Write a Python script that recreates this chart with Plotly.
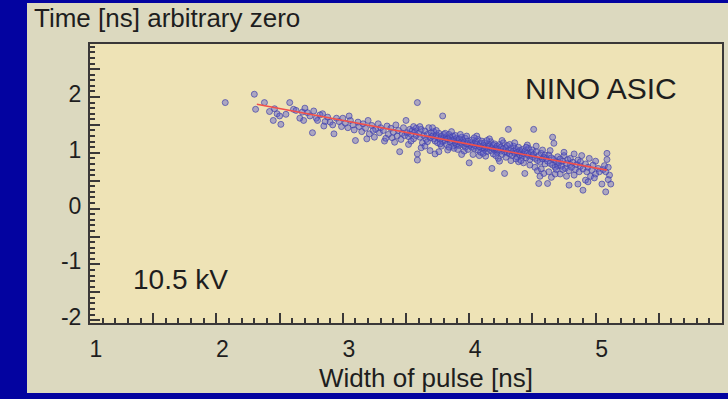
import plotly.graph_objects as go

# ---- data ----
width_ns = [
    2.07, 2.30, 2.31,
    2.38, 2.42, 2.45, 2.48, 2.50, 2.51, 2.46, 2.55,
    2.58, 2.61, 2.63, 2.66, 2.68, 2.70, 2.72, 2.74, 2.69,
    2.76, 2.77, 2.79, 2.80, 2.82, 2.84, 2.86, 2.88, 2.90, 2.85,
    2.93, 2.92, 2.95, 2.97, 2.99, 3.00, 3.02, 3.04, 3.06, 3.08, 3.10, 3.05, 3.09,
    3.12, 3.13, 3.15, 3.16, 3.18, 3.20, 3.21, 3.23, 3.25, 3.26, 3.28, 3.29, 3.30, 3.19, 3.24,
    3.32, 3.33, 3.35, 3.36, 3.38, 3.39, 3.40, 3.42, 3.43, 3.45, 3.44, 3.46, 3.47, 3.48, 3.49, 3.34, 3.41,
    3.50, 3.51, 3.52, 3.53, 3.54, 3.55, 3.56, 3.57, 3.58, 3.59, 3.59, 3.59, 3.52, 3.56, 3.58, 3.54,
    3.60, 3.61, 3.62, 3.63, 3.64, 3.65, 3.66, 3.67, 3.68, 3.69, 3.70, 3.62, 3.65, 3.67, 3.61, 3.69,
    3.71, 3.72, 3.72, 3.73, 3.74, 3.75, 3.75, 3.76, 3.77, 3.78, 3.79, 3.79, 3.80, 3.73, 3.76, 3.78, 3.71, 3.74, 3.77, 3.80,
    3.81, 3.82, 3.82, 3.83, 3.84, 3.85, 3.85, 3.86, 3.87, 3.87, 3.88, 3.89, 3.90, 3.83, 3.86, 3.88, 3.90, 3.81, 3.84, 3.89,
    3.91, 3.92, 3.92, 3.93, 3.94, 3.95, 3.95, 3.96, 3.97, 3.97, 3.98, 3.99, 4.00, 4.00, 3.93, 3.96, 3.98, 3.91, 3.94, 3.99,
    4.01, 4.02, 4.02, 4.03, 4.04, 4.05, 4.05, 4.06, 4.07, 4.07, 4.08, 4.09, 4.10, 4.03, 4.06, 4.08, 4.10, 4.04, 4.09,
    4.11, 4.12, 4.12, 4.13, 4.14, 4.15, 4.15, 4.16, 4.17, 4.17, 4.18, 4.18, 4.19, 4.20, 4.13, 4.16, 4.19, 4.11, 4.14, 4.20,
    4.21, 4.22, 4.22, 4.23, 4.24, 4.25, 4.25, 4.26, 4.27, 4.27, 4.28, 4.28, 4.29, 4.30, 4.23, 4.26, 4.29, 4.21, 4.24, 4.30,
    4.31, 4.31, 4.32, 4.33, 4.34, 4.35, 4.35, 4.36, 4.37, 4.38, 4.38, 4.39, 4.40, 4.33, 4.36, 4.39, 4.32, 4.37, 4.40,
    4.41, 4.42, 4.42, 4.43, 4.44, 4.44, 4.45, 4.46, 4.47, 4.47, 4.48, 4.49, 4.50, 4.43, 4.46, 4.48, 4.41, 4.45, 4.50,
    4.51, 4.51, 4.52, 4.53, 4.54, 4.55, 4.55, 4.56, 4.57, 4.58, 4.58, 4.59, 4.60, 4.52, 4.54, 4.57, 4.60, 4.53, 4.56, 4.59,
    4.62, 4.61, 4.62, 4.63, 4.64, 4.65, 4.66, 4.66, 4.67, 4.67, 4.68, 4.69, 4.70, 4.63, 4.65, 4.68, 4.70, 4.64, 4.69,
    4.71, 4.72, 4.73, 4.74, 4.75, 4.76, 4.77, 4.78, 4.79, 4.79, 4.80, 4.72, 4.75, 4.77, 4.80, 4.74,
    4.81, 4.82, 4.83, 4.84, 4.85, 4.86, 4.86, 4.87, 4.88, 4.89, 4.90, 4.90, 4.83, 4.88,
    4.92, 4.92, 4.93, 4.94, 4.95, 4.96, 4.97, 4.98, 5.00, 5.00, 4.94, 4.99,
    5.02, 5.03, 5.05, 5.06, 5.07, 5.08, 5.09, 5.09, 5.10, 5.11, 5.12, 5.10, 5.08,
]
time_ns = [
    1.90, 2.05, 1.78,
    1.90, 1.74, 1.58, 1.70, 1.66, 1.51, 1.79, 1.69,
    1.90, 1.78, 1.76, 1.62, 1.73, 1.80, 1.72, 1.66, 1.58,
    1.36, 1.75, 1.62, 1.58, 1.68, 1.70, 1.56, 1.64, 1.55, 1.48,
    1.34, 1.50, 1.62, 1.56, 1.47, 1.62, 1.53, 1.45, 1.58, 1.50, 1.22, 1.66, 1.41,
    1.55, 1.47, 1.38, 1.52, 1.44, 1.58, 1.34, 1.49, 1.28, 1.42, 1.52, 1.36, 1.45, 1.25, 1.40,
    1.40, 1.21, 1.48, 1.33, 1.44, 1.27, 1.37, 1.50, 1.30, 1.02, 1.40, 1.24, 1.35, 1.45, 1.31, 1.26, 1.19,
    1.58, 1.36, 1.29, 1.42, 1.33, 1.40, 1.25, 1.38, 1.44, 1.90, 0.98, 0.87, 1.15, 1.47, 1.31, 1.21,
    1.35, 1.28, 1.42, 1.18, 1.31, 1.39, 1.24, 1.33, 1.45, 1.27, 1.36, 1.09, 1.12, 1.20, 1.47, 1.04,
    1.30, 1.25, 1.38, 1.21, 1.32, 1.28, 1.18, 1.35, 1.24, 1.30, 1.66, 1.20, 1.27, 0.98, 1.02, 1.12, 1.45, 1.40, 1.16, 1.33,
    1.22, 1.29, 1.15, 1.25, 1.33, 1.19, 1.27, 1.22, 1.12, 1.30, 1.24, 1.18, 1.26, 1.05, 1.38, 1.08, 1.14, 1.35, 1.10, 1.31,
    1.20, 1.25, 1.13, 1.18, 1.28, 1.15, 1.22, 1.19, 1.10, 1.26, 1.16, 1.21, 1.13, 0.82, 1.33, 1.03, 1.30, 1.06, 0.97, 1.06,
    1.18, 1.10, 1.23, 1.15, 1.08, 1.20, 1.12, 1.16, 1.05, 1.24, 1.11, 1.17, 1.08, 0.97, 1.30, 0.95, 1.21, 1.27, 1.01,
    1.13, 1.06, 1.18, 1.10, 1.02, 1.15, 1.08, 1.12, 1.04, 1.20, 0.72, 1.09, 1.14, 1.05, 0.94, 1.25, 0.98, 0.99, 1.22, 1.16,
    1.08, 1.12, 1.01, 1.06, 1.15, 1.03, 1.10, 0.97, 1.07, 1.18, 0.63, 1.02, 1.09, 1.00, 0.90, 1.22, 0.92, 0.95, 0.85, 1.13,
    1.42, 1.04, 0.98, 1.08, 0.95, 1.03, 1.12, 0.99, 1.06, 0.92, 1.01, 1.10, 0.96, 0.86, 1.18, 0.84, 1.15, 0.89, 1.04,
    1.00, 0.94, 1.06, 0.98, 0.63, 1.03, 0.91, 0.99, 0.95, 1.08, 0.88, 1.01, 0.93, 0.82, 1.14, 0.78, 0.86, 1.10, 1.05,
    1.42, 0.97, 0.90, 1.02, 0.86, 0.45, 0.95, 0.83, 0.99, 0.89, 1.05, 0.92, 0.80, 0.74, 0.68, 0.71, 0.96, 1.12, 0.58, 0.63,
    0.45, 0.90, 0.85, 0.96, 0.81, 0.91, 1.28, 0.78, 1.17, 0.88, 0.74, 0.84, 0.93, 0.66, 0.56, 0.62, 0.77, 1.04, 0.70,
    0.82, 0.89, 0.76, 0.85, 0.95, 0.72, 0.81, 0.88, 0.42, 0.68, 0.79, 0.62, 1.01, 0.58, 0.90, 0.70,
    0.74, 0.83, 0.98, 0.70, 0.79, 0.44, 0.87, 0.66, 0.76, 0.95, 0.33, 0.71, 0.60, 0.84,
    0.51, 0.80, 0.66, 0.74, 0.90, 0.58, 0.69, 0.78, 0.85, 0.62, 0.48, 0.55,
    0.72, 0.66, 0.44, 0.70, 0.77, 0.30, 0.99, 0.88, 0.74, 0.60, 0.44, 0.52, 0.66,
]
fit_x = [2.32, 5.09]
fit_y = [1.87, 0.69]

x_tickvals = [1, 1.5, 2, 2.5, 3, 3.5, 4, 4.5, 5, 5.5, 6]
x_ticktext = ["1", "", "2", "", "3", "", "4", "", "5", "", "6"]
y_tickvals = [-2, -1.5, -1, -0.5, 0, 0.5, 1, 1.5, 2, 2.5]
y_ticktext = ["-2", "", "-1", "", "0", "", "1", "", "2", ""]

FONT = "Liberation Sans, Arial, Helvetica, sans-serif"
TXT = "#1e1e1e"
AX = "#3a3838"
BLUE = "#0303a0"
PANEL = "#dcd9bf"
PLOTBG = "#eee3b6"

fig = go.Figure()
fig.add_trace(go.Scatter(
    x=width_ns, y=time_ns, mode="markers",
    marker=dict(symbol="circle", size=6, color="rgba(90,90,205,0.45)",
                line=dict(color="rgba(65,65,170,0.7)", width=1)),
    showlegend=False, hoverinfo="skip"))
fig.add_trace(go.Scatter(
    x=fit_x, y=fit_y, mode="lines",
    line=dict(color="#f2504a", width=1.6),
    showlegend=False, hoverinfo="skip"))

W, H = 728, 399
L, R, T, B = 90, 6, 44, 76
pw, ph = W - L - R, H - T - B

def px(xp):
    return (xp - L) / pw

def py(yp):
    return (H - B - yp) / ph

fig.add_shape(type="rect", xref="paper", yref="paper",
              x0=px(27), x1=px(740), y0=py(393), y1=py(3),
              fillcolor=PANEL, line_width=0, layer="below")
fig.add_shape(type="rect", xref="paper", yref="paper",
              x0=0, x1=1, y0=0, y1=1,
              fillcolor=PLOTBG, line_width=0, layer="below")

axis_common = dict(
    showline=True, mirror=True, linecolor=AX, linewidth=2,
    ticks="inside", ticklen=10, tickwidth=1.5, tickcolor=AX,
    showgrid=False, zeroline=False, automargin=False,
    tickfont=dict(family=FONT, size=23, color=TXT),
    minor=dict(ticks="inside", ticklen=5, tickwidth=1.5, tickcolor=AX,
               dtick=0.1, showgrid=False),
    tickmode="array",
)
fig.update_xaxes(range=[1, 6], tickvals=x_tickvals, ticktext=x_ticktext,
                 ticklabelshift=6, ticklabelstandoff=4, **axis_common)
fig.update_yaxes(range=[-2.05, 2.95], tickvals=y_tickvals, ticktext=y_ticktext,
                 ticklabelshift=-3, ticklabelstandoff=2, **axis_common)

annots = [
    dict(text="Time [ns] arbitrary zero", x=px(32), y=py(18), xanchor="left", size=26),
    dict(text="NINO ASIC", x=px(523), y=py(88), xanchor="left", size=30),
    dict(text="10.5 kV", x=px(131), y=py(279), xanchor="left", size=28),
    dict(text="Width of pulse [ns]", x=px(426), y=py(378), xanchor="center", size=26),
]
for a in annots:
    fig.add_annotation(text=a["text"], x=a["x"], y=a["y"], xref="paper", yref="paper",
                       xanchor=a["xanchor"], yanchor="middle", showarrow=False,
                       font=dict(family=FONT, size=a["size"], color=TXT))

fig.update_layout(
    width=W, height=H,
    margin=dict(l=L, r=R, t=T, b=B, pad=0, autoexpand=False),
    paper_bgcolor=BLUE, plot_bgcolor="rgba(0,0,0,0)",
    font=dict(family=FONT, color=TXT),
)

fig.write_html("out.html")
